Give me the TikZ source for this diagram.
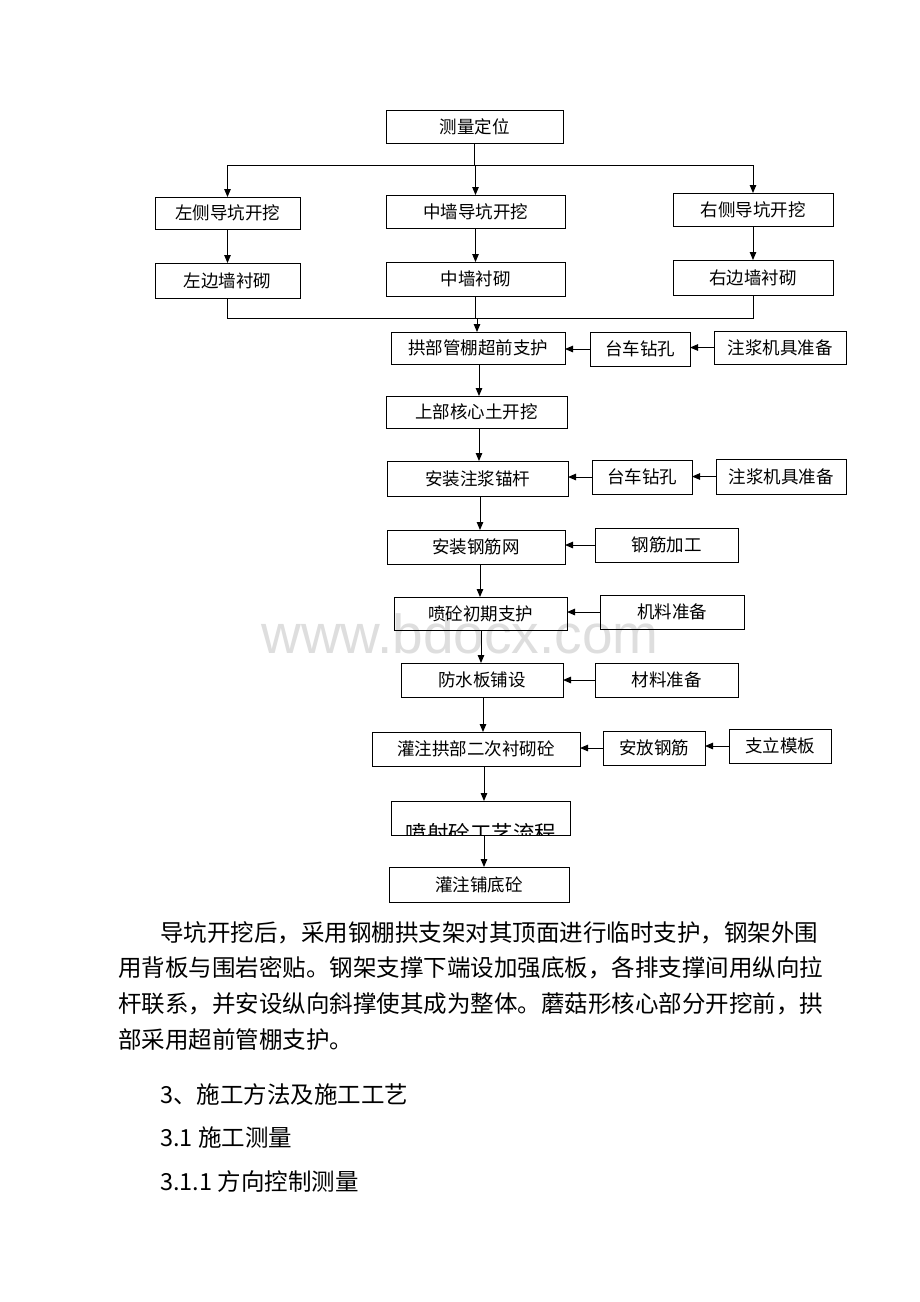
\documentclass[tikz,border=0pt]{standalone}
\usepackage{fontspec}
\setmainfont{Liberation Sans}
\newfontfamily\cjk{Noto Sans CJK SC}
\usetikzlibrary{arrows.meta}
\newcommand\mybox[6]{\node[box,minimum width={(#4-#2)*1pt},minimum height={(#5-#3)*1pt}] (#1) at ({(#2+#4)/2},{(#3+#5)/2}) {#6};}
\begin{document}
\begin{tikzpicture}[x=1pt,y=-1pt,
  box/.style={draw,line width=1pt,inner sep=0pt,outer sep=0pt,font=\cjk\fontsize{17.5}{17.5}\selectfont},
  arr/.style={line width=1pt,-{Triangle[length=8pt,width=6.5pt]}},
  ln/.style={line width=1pt},
  para/.style={anchor=west,inner sep=0pt,font=\cjk\fontsize{23.5}{23.5}\selectfont}]
\useasboundingbox[fill=white] (0,0) rectangle (920,1302);
% watermark
\node[text=black!13,font=\fontsize{55}{55}\selectfont] (wm) at (460,634) {www.bdocx.com};
% boxes
\mybox{m0}{386}{110}{563}{143}{测量定位}
\mybox{l1}{155}{197}{300}{229}{左侧导坑开挖}
\mybox{c1}{386}{195}{565}{228}{中墙导坑开挖}
\mybox{r1}{673}{193}{833}{226}{右侧导坑开挖}
\mybox{l2}{155}{263}{300}{298}{左边墙衬砌}
\mybox{c2}{386}{262}{565}{296}{中墙衬砌}
\mybox{r2}{673}{260}{833}{295}{右边墙衬砌}
\mybox{a1}{391}{332}{565}{364}{拱部管棚超前支护}
\mybox{b1}{590}{332}{690}{366}{台车钻孔}
\mybox{e1}{714}{331}{846}{364}{注浆机具准备}
\mybox{a2}{386}{396}{567}{428}{上部核心土开挖}
\mybox{a3}{387}{461}{568}{496}{安装注浆锚杆}
\mybox{b3}{592}{460}{692}{494}{台车钻孔}
\mybox{e3}{716}{459}{846}{494}{注浆机具准备}
\mybox{a4}{387}{530}{565}{564}{安装钢筋网}
\mybox{b4}{595}{528}{738}{562}{钢筋加工}
\mybox{a5}{394}{597}{567}{630}{喷砼初期支护}
\mybox{b5}{600}{595}{744}{629}{机料准备}
\mybox{a6}{401}{663}{563}{697}{防水板铺设}
\mybox{b6}{595}{663}{738}{697}{材料准备}
\mybox{a7}{372}{732}{580}{766}{灌注拱部二次衬砌砼}
\mybox{b7}{603}{731}{705}{765}{安放钢筋}
\mybox{e7}{729}{729}{831}{763}{支立模板}
\mybox{a8}{391}{801}{570}{835}{}
\begin{scope}
\clip (a8.south west) rectangle (a8.north east);
\node[inner sep=0pt,font=\cjk\fontsize{21.5}{21.5}\selectfont] (a8t) at (481,833) {喷射砼工艺流程};
\end{scope}
\mybox{a9}{389}{867}{569}{902}{灌注铺底砼}
% top distribution
\coordinate (j1) at (474,165);
\draw[ln] (m0.south) -- (m0.south|-j1);
\draw[ln] (l1.north|-j1) -- (r1.north|-j1);
\draw[arr] (l1.north|-j1) -- (l1.north);
\draw[arr] (c1.north|-j1) -- (c1.north);
\draw[arr] (r1.north|-j1) -- (r1.north);
\draw[arr] (l1.south) -- (l2.north);
\draw[arr] (c1.south) -- (c2.north);
\draw[arr] (r1.south) -- (r2.north);
% merge
\coordinate (j2) at (477,318);
\draw[ln] (l2.south) -- (l2.south|-j2) -- (r2.south|-j2) -- (r2.south);
\draw[ln] (c2.south) -- (c2.south|-j2);
\draw[arr] (j2) -- (j2|-a1.north);
% main chain
\draw[arr] ([xshift=1pt]a1.south) -- ([xshift=1pt]a1.south|-a2.north);
\draw[arr] ([xshift=2.5pt]a2.south) -- ([xshift=2.5pt]a2.south|-a3.north);
\draw[arr] ([xshift=2.5pt]a3.south) -- ([xshift=2.5pt]a3.south|-a4.north);
\draw[arr] ([xshift=4pt]a4.south) -- ([xshift=4pt]a4.south|-a5.north);
\draw[arr] ([xshift=0.5pt]a5.south) -- ([xshift=0.5pt]a5.south|-a6.north);
\draw[arr] ([xshift=1pt]a6.south) -- ([xshift=1pt]a6.south|-a7.north);
\draw[arr] ([xshift=8pt]a7.south) -- ([xshift=8pt]a7.south|-a8.north);
\draw[arr] ([xshift=3.5pt]a8.south) -- ([xshift=3.5pt]a8.south|-a9.north);
% side arrows
\draw[arr] (b1.west) -- (b1.west-|a1.east);
\draw[arr] (e1.west) -- (e1.west-|b1.east);
\draw[arr] (b3.west) -- (b3.west-|a3.east);
\draw[arr] (e3.west) -- (e3.west-|b3.east);
\draw[arr] (b4.west) -- (b4.west-|a4.east);
\draw[arr] (b5.west) -- (b5.west-|a5.east);
\draw[arr] (b6.west) -- (b6.west-|a6.east);
\draw[arr] (b7.west) -- (b7.west-|a7.east);
\draw[arr] (e7.west) -- (e7.west-|b7.east);
% paragraph
\node[para] (p1) at (160,933) {导坑开挖后，采用钢棚拱支架对其顶面进行临时支护，钢架外围};
\node[para] (p2) at (118,968) {用背板与围岩密贴。钢架支撑下端设加强底板，各排支撑间用纵向拉};
\node[para] (p3) at (118,1004) {杆联系，并安设纵向斜撑使其成为整体。蘑菇形核心部分开挖前，拱};
\node[para] (p4) at (118,1040) {部采用超前管棚支护。};
\node[para] (h1) at (160,1095) {3、施工方法及施工工艺};
\node[para] (h2) at (160,1138) {3.1 施工测量};
\node[para] (h3) at (160,1182) {3.1.1 方向控制测量};
\end{tikzpicture}
\end{document}
